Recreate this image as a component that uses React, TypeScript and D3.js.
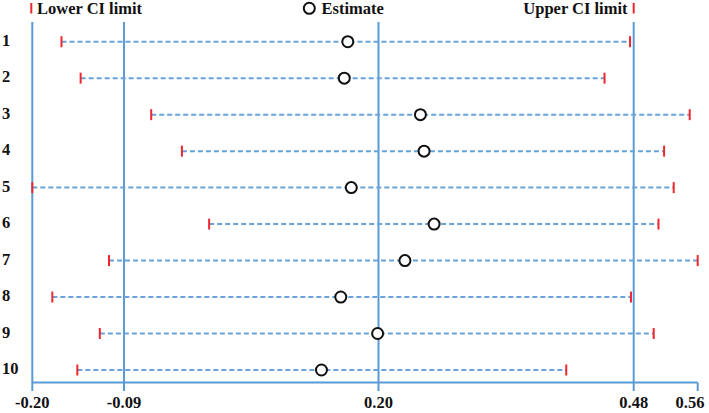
import React from "react";
import * as d3 from "d3";

// values
const studies = ["1", "2", "3", "4", "5", "6", "7", "8", "9", "10"];
const lowerCI = [-0.165, -0.142, -0.059, -0.024, -0.2, 0.007, -0.108, -0.176, -0.119, -0.146];
const estimates = [0.165, 0.161, 0.246, 0.25, 0.169, 0.261, 0.229, 0.157, 0.199, 0.135];
const upperCI = [0.476, 0.448, 0.55, 0.518, 0.53, 0.511, 0.56, 0.477, 0.505, 0.406];
const tickValues = [-0.2, -0.09, 0.2, 0.48, 0.56];
const tickLabels = ["-0.20", "-0.09", "0.20", "0.48", "0.56"];
const refLines = [-0.2, -0.09, 0.2, 0.48];

const WIDTH = 709;
const HEIGHT = 413;
const BLUE = "#5b9bd5";
const DASH_BLUE = "#6aa3da";
const RED = "#f0252d";
const FONT = "'Liberation Serif', 'Times New Roman', serif";

export default function App() {
  // the source image is slightly uneven between ticks, so use a polylinear scale
  const x = d3
    .scaleLinear()
    .domain(tickValues)
    .range([32.3, 124, 378.5, 633.7, 697.7]);

  const y = d3.scalePoint().domain(studies).range([41.7, 370]);

  const axisY = 382.5;
  const lineTop = 22;
  const tickBottom = 391;

  return (
    <svg
      width={WIDTH}
      height={HEIGHT}
      style={{ position: "absolute", left: 0, top: 0, background: "#fff" }}
      fontFamily={FONT}
      fontWeight="bold"
    >
      {/* legend */}
      <g fontSize={16.5} fill="#111">
        <line x1={x(-0.2) - 1} x2={x(-0.2) - 1} y1={3} y2={13.5} stroke={RED} strokeWidth={2} />
        <text x={37} y={13.5}>Lower CI limit</text>
        <circle cx={309.3} cy={8.3} r={5.5} fill="#fff" stroke="#111" strokeWidth={2} />
        <text x={321.5} y={13.5}>Estimate</text>
        <text x={627.5} y={13.5} textAnchor="end">Upper CI limit</text>
        <line x1={x(0.48)} x2={x(0.48)} y1={3} y2={13.5} stroke={RED} strokeWidth={2} />
      </g>

      {/* reference lines */}
      {refLines.map((v) => (
        <line key={v} x1={x(v)} x2={x(v)} y1={lineTop} y2={tickBottom} stroke={BLUE} strokeWidth={2} />
      ))}

      {/* x axis */}
      <line x1={x(-0.2)} x2={x(0.56)} y1={axisY} y2={axisY} stroke={BLUE} strokeWidth={2} />
      <line x1={x(0.56)} x2={x(0.56)} y1={axisY} y2={tickBottom} stroke={BLUE} strokeWidth={2} />
      <g fontSize={16.5} fill="#111" textAnchor="middle">
        {tickValues.map((v, i) => (
          <text key={v} x={Math.min(Math.max(x(v), 22), 690)} y={408}>
            {tickLabels[i]}
          </text>
        ))}
      </g>

      {/* rows */}
      {studies.map((s, i) => {
        const yy = y(s) as number;
        return (
          <g key={s}>
            <text x={2} y={yy + 4} fontSize={16.5} fill="#111">
              {s}
            </text>
            <line
              x1={x(lowerCI[i])}
              x2={x(upperCI[i])}
              y1={yy}
              y2={yy}
              stroke={DASH_BLUE}
              strokeWidth={2}
              strokeDasharray="5,3"
            />
            <line x1={x(lowerCI[i])} x2={x(lowerCI[i])} y1={yy - 5.5} y2={yy + 5.5} stroke={RED} strokeWidth={2} />
            <line x1={x(upperCI[i])} x2={x(upperCI[i])} y1={yy - 5.5} y2={yy + 5.5} stroke={RED} strokeWidth={2} />
            <circle cx={x(estimates[i])} cy={yy} r={5.5} fill="#fff" stroke="#111" strokeWidth={2} />
          </g>
        );
      })}
    </svg>
  );
}
